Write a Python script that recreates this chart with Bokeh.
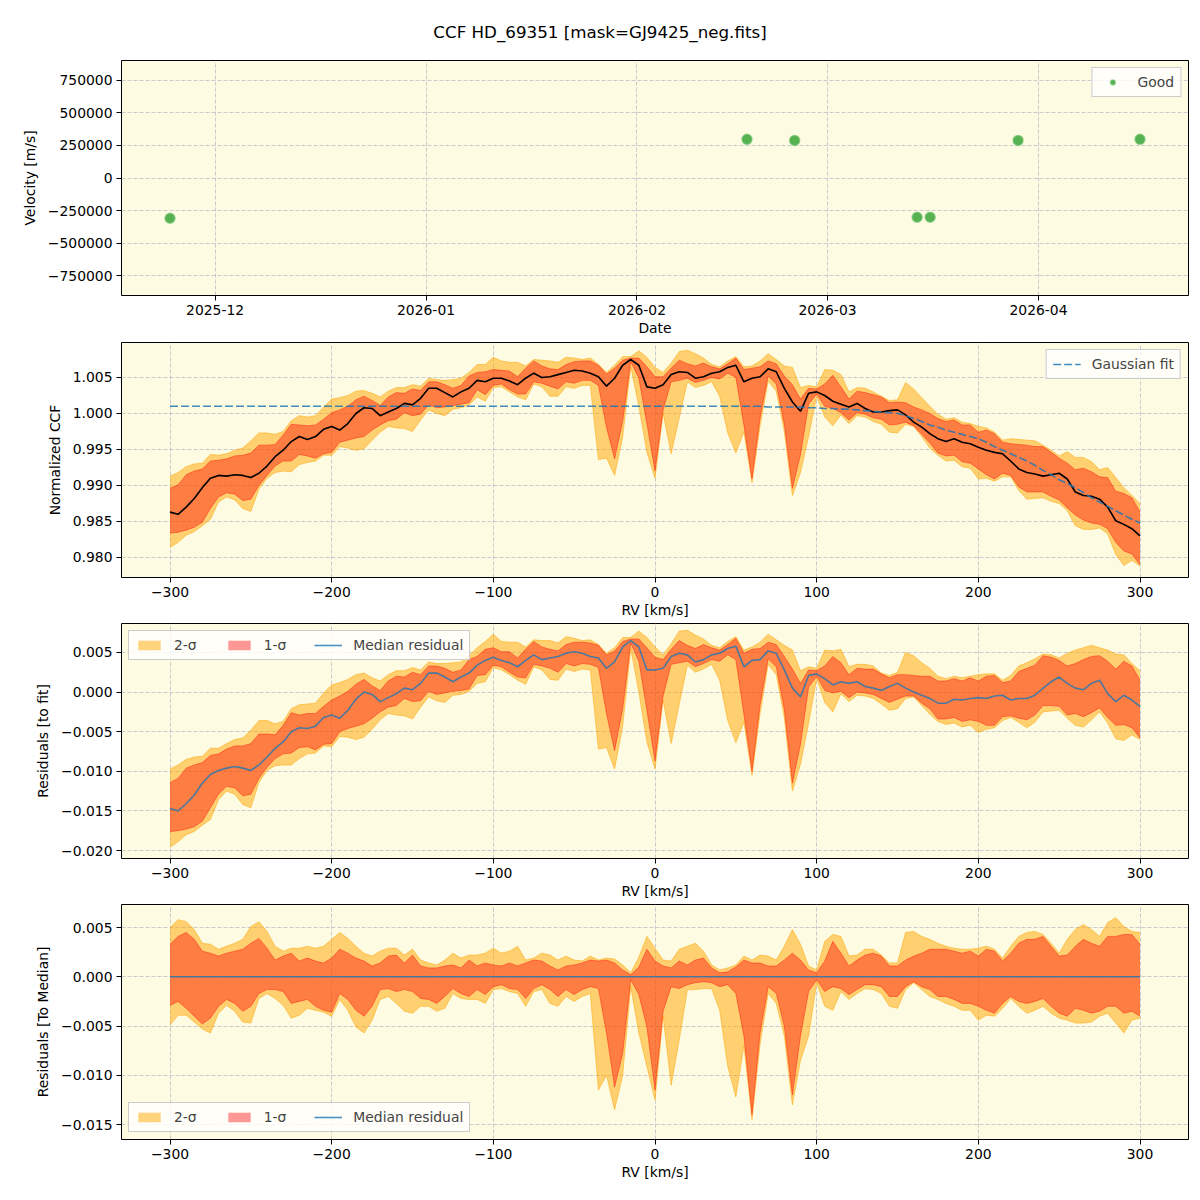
import numpy as np
import pandas as pd
from bokeh.plotting import figure
from bokeh.layouts import column
from bokeh.models import (Range1d, FixedTicker, CustomJSTickFormatter,
                          DatetimeTickFormatter, Legend, LegendItem, Div)
from bokeh.embed import file_html
from bokeh.resources import INLINE

FONT = "DejaVu Sans"
TXT = "13.9px"
PANEL_BG = "#fdfbe1"
GRID_COLOR = "#b4b4c4"

title_text = "CCF HD_69351 [mask=GJ9425_neg.fits]"

# ---- radial-velocity time series -------------------------------------------
obs_dates = ["2025-11-24 09:00", "2026-02-17 04:00", "2026-02-24 04:00",
             "2026-03-14 04:00", "2026-03-16 02:00", "2026-03-29 00:00",
             "2026-04-15 22:00"]
obs_velocity = [-308000, 296000, 288000, -301000, -301000, 288000, 296000]
month_ticks = ["2025-12-01", "2026-01-01", "2026-02-01", "2026-03-01", "2026-04-01"]
velocity_ticks = [-750000, -500000, -250000, 0, 250000, 500000, 750000]

# ---- CCF profiles on the RV grid (km/s) ---------------------------------------
rv_kms = list(range(-300, 305, 5))

ccf_median = [
    0.9863, 0.9860, 0.9870, 0.9882, 0.9897, 0.9910, 0.9914, 0.9913, 0.9915, 0.9914,
    0.9911, 0.9917, 0.9927, 0.9940, 0.9949, 0.9961, 0.9968, 0.9964, 0.9968, 0.9978,
    0.9982, 0.9977, 0.9986, 1.0000, 1.0008, 1.0007, 0.9997, 1.0002, 1.0007, 1.0014,
    1.0012, 1.0021, 1.0035, 1.0035, 1.0029, 1.0023, 1.0030, 1.0035, 1.0046, 1.0044,
    1.0049, 1.0049, 1.0045, 1.0040, 1.0049, 1.0056, 1.0050, 1.0051, 1.0054, 1.0057,
    1.0060, 1.0059, 1.0056, 1.0051, 1.0038, 1.0049, 1.0067, 1.0075, 1.0067, 1.0037,
    1.0035, 1.0040, 1.0054, 1.0058, 1.0057, 1.0049, 1.0051, 1.0056, 1.0058, 1.0064,
    1.0067, 1.0044, 1.0049, 1.0051, 1.0062, 1.0058, 1.0035, 1.0016, 1.0003, 1.0028,
    1.0030, 1.0025, 1.0017, 1.0013, 1.0009, 1.0014, 1.0007, 1.0002, 1.0002, 1.0004,
    1.0005, 0.9998, 0.9988, 0.9981, 0.9972, 0.9965, 0.9961, 0.9965, 0.9960, 0.9958,
    0.9953, 0.9949, 0.9946, 0.9944, 0.9934, 0.9923, 0.9918, 0.9916, 0.9913, 0.9915,
    0.9917, 0.9909, 0.9891, 0.9886, 0.9885, 0.9881, 0.9870, 0.9851, 0.9846, 0.9840,
    0.9830,
]

ccf_fit = [
    1.0010, 1.0010, 1.0010, 1.0010, 1.0010, 1.0010, 1.0010, 1.0010, 1.0010, 1.0010,
    1.0010, 1.0010, 1.0010, 1.0010, 1.0010, 1.0010, 1.0010, 1.0010, 1.0010, 1.0010,
    1.0010, 1.0010, 1.0010, 1.0010, 1.0010, 1.0010, 1.0010, 1.0010, 1.0010, 1.0010,
    1.0010, 1.0010, 1.0010, 1.0010, 1.0010, 1.0010, 1.0010, 1.0010, 1.0010, 1.0010,
    1.0010, 1.0010, 1.0010, 1.0010, 1.0010, 1.0010, 1.0010, 1.0010, 1.0010, 1.0010,
    1.0010, 1.0010, 1.0010, 1.0010, 1.0010, 1.0010, 1.0010, 1.0010, 1.0010, 1.0010,
    1.0010, 1.0010, 1.0010, 1.0010, 1.0010, 1.0010, 1.0010, 1.0010, 1.0010, 1.0010,
    1.0010, 1.0010, 1.0010, 1.0010, 1.0009, 1.0009, 1.0009, 1.0009, 1.0009, 1.0008,
    1.0008, 1.0007, 1.0007, 1.0006, 1.0006, 1.0005, 1.0004, 1.0003, 1.0002, 1.0001,
    1.0000, 0.9997, 0.9993, 0.9989, 0.9984, 0.9981, 0.9977, 0.9974, 0.9971, 0.9968,
    0.9965, 0.9960, 0.9954, 0.9949, 0.9944, 0.9939, 0.9934, 0.9928, 0.9921, 0.9915,
    0.9908, 0.9903, 0.9897, 0.9890, 0.9883, 0.9877, 0.9871, 0.9865, 0.9859, 0.9853,
    0.9848,
]

# median residual with respect to the Gaussian fit
resid_median = [
    -0.0147, -0.0150, -0.0141, -0.0130, -0.0115, -0.0104, -0.0099, -0.0096, -0.0094, -0.0096,
    -0.0099, -0.0092, -0.0082, -0.0071, -0.0063, -0.0050, -0.0045, -0.0046, -0.0043, -0.0032,
    -0.0029, -0.0033, -0.0023, -0.0009, 0.0000, -0.0003, -0.0012, -0.0007, -0.0002, 0.0005,
    0.0003, 0.0011, 0.0024, 0.0024, 0.0019, 0.0013, 0.0019, 0.0024, 0.0034, 0.0040,
    0.0044, 0.0040, 0.0037, 0.0032, 0.0040, 0.0047, 0.0041, 0.0043, 0.0045, 0.0049,
    0.0051, 0.0049, 0.0045, 0.0043, 0.0030, 0.0038, 0.0057, 0.0065, 0.0057, 0.0028,
    0.0028, 0.0030, 0.0045, 0.0049, 0.0047, 0.0038, 0.0041, 0.0047, 0.0049, 0.0055,
    0.0058, 0.0032, 0.0040, 0.0041, 0.0052, 0.0049, 0.0028, 0.0005, -0.0006, 0.0021,
    0.0023, 0.0017, 0.0009, 0.0013, 0.0011, 0.0013, 0.0007, 0.0005, 0.0002, 0.0007,
    0.0011, 0.0005, 0.0000, -0.0004, -0.0008, -0.0014, -0.0014, -0.0009, -0.0010, -0.0008,
    -0.0007, -0.0008, -0.0005, -0.0004, -0.0010, -0.0008, -0.0008, -0.0004, 0.0005, 0.0013,
    0.0019, 0.0011, 0.0005, 0.0003, 0.0011, 0.0015, -0.0002, -0.0012, -0.0004, -0.0010,
    -0.0018,
]

# spread of the individual CCFs around the median profile
sig2_hi = [
    0.0050, 0.0058, 0.0056, 0.0048, 0.0034, 0.0033, 0.0028, 0.0031, 0.0034, 0.0038,
    0.0051, 0.0056, 0.0046, 0.0031, 0.0026, 0.0029, 0.0029, 0.0031, 0.0029, 0.0031,
    0.0038, 0.0045, 0.0039, 0.0031, 0.0024, 0.0021, 0.0026, 0.0029, 0.0029, 0.0022,
    0.0028, 0.0017, 0.0014, 0.0012, 0.0017, 0.0024, 0.0019, 0.0022, 0.0022, 0.0024,
    0.0029, 0.0024, 0.0026, 0.0031, 0.0017, 0.0019, 0.0024, 0.0022, 0.0017, 0.0021,
    0.0017, 0.0016, 0.0021, 0.0017, 0.0019, 0.0018, 0.0012, 0.0004, 0.0020, 0.0041,
    0.0029, 0.0017, 0.0016, 0.0028, 0.0031, 0.0034, 0.0026, 0.0012, 0.0007, 0.0009,
    0.0012, 0.0021, 0.0017, 0.0022, 0.0021, 0.0017, 0.0031, 0.0048, 0.0033, 0.0011,
    0.0007, 0.0036, 0.0043, 0.0041, 0.0021, 0.0022, 0.0028, 0.0028, 0.0022, 0.0014,
    0.0014, 0.0045, 0.0046, 0.0041, 0.0038, 0.0034, 0.0031, 0.0029, 0.0028, 0.0028,
    0.0029, 0.0031, 0.0028, 0.0019, 0.0031, 0.0041, 0.0045, 0.0046, 0.0043, 0.0034,
    0.0024, 0.0038, 0.0048, 0.0053, 0.0048, 0.0041, 0.0055, 0.0060, 0.0051, 0.0046,
    0.0045,
]
sig1_hi = [
    0.0033, 0.0041, 0.0045, 0.0038, 0.0026, 0.0024, 0.0021, 0.0024, 0.0026, 0.0028,
    0.0034, 0.0039, 0.0029, 0.0017, 0.0021, 0.0024, 0.0016, 0.0019, 0.0016, 0.0014,
    0.0019, 0.0028, 0.0024, 0.0019, 0.0016, 0.0011, 0.0014, 0.0021, 0.0022, 0.0014,
    0.0022, 0.0011, 0.0009, 0.0009, 0.0011, 0.0012, 0.0009, 0.0017, 0.0011, 0.0014,
    0.0012, 0.0011, 0.0014, 0.0011, 0.0014, 0.0017, 0.0016, 0.0011, 0.0007, 0.0011,
    0.0012, 0.0014, 0.0017, 0.0016, 0.0017, 0.0014, 0.0007, 0.0002, 0.0010, 0.0028,
    0.0016, 0.0011, 0.0009, 0.0016, 0.0012, 0.0017, 0.0019, 0.0009, 0.0004, 0.0005,
    0.0010, 0.0017, 0.0014, 0.0014, 0.0011, 0.0011, 0.0017, 0.0024, 0.0017, 0.0007,
    0.0004, 0.0016, 0.0036, 0.0024, 0.0011, 0.0017, 0.0022, 0.0024, 0.0021, 0.0011,
    0.0011, 0.0017, 0.0021, 0.0024, 0.0028, 0.0028, 0.0028, 0.0026, 0.0024, 0.0026,
    0.0021, 0.0028, 0.0026, 0.0016, 0.0024, 0.0034, 0.0038, 0.0038, 0.0041, 0.0031,
    0.0021, 0.0022, 0.0031, 0.0038, 0.0034, 0.0031, 0.0041, 0.0041, 0.0043, 0.0043,
    0.0033,
]
sig1_lo = [
    -0.0029, -0.0025, -0.0032, -0.0040, -0.0048, -0.0042, -0.0030, -0.0023, -0.0027, -0.0035,
    -0.0030, -0.0017, -0.0013, -0.0013, -0.0015, -0.0027, -0.0025, -0.0023, -0.0030, -0.0034,
    -0.0036, -0.0017, -0.0023, -0.0034, -0.0040, -0.0030, -0.0013, -0.0012, -0.0015, -0.0013,
    -0.0015, -0.0022, -0.0023, -0.0027, -0.0020, -0.0012, -0.0017, -0.0020, -0.0013, -0.0018,
    -0.0010, -0.0008, -0.0012, -0.0013, -0.0022, -0.0012, -0.0008, -0.0013, -0.0020, -0.0013,
    -0.0018, -0.0013, -0.0010, -0.0012, -0.0057, -0.0112, -0.0078, -0.0003, -0.0018, -0.0051,
    -0.0115, -0.0035, -0.0010, -0.0012, -0.0008, -0.0006, -0.0005, -0.0006, -0.0010, -0.0008,
    -0.0017, -0.0060, -0.0140, -0.0057, -0.0010, -0.0017, -0.0050, -0.0120, -0.0060, -0.0015,
    -0.0003, -0.0015, -0.0010, -0.0012, -0.0018, -0.0013, -0.0008, -0.0008, -0.0010, -0.0020,
    -0.0020, -0.0010, -0.0005, -0.0010, -0.0013, -0.0020, -0.0020, -0.0023, -0.0027, -0.0027,
    -0.0030, -0.0034, -0.0037, -0.0027, -0.0020, -0.0025, -0.0027, -0.0025, -0.0022, -0.0030,
    -0.0037, -0.0040, -0.0032, -0.0034, -0.0037, -0.0035, -0.0030, -0.0030, -0.0037, -0.0035,
    -0.0040,
]
sig2_lo = [
    -0.0049, -0.0039, -0.0039, -0.0046, -0.0053, -0.0057, -0.0037, -0.0029, -0.0035, -0.0046,
    -0.0047, -0.0022, -0.0017, -0.0022, -0.0029, -0.0042, -0.0039, -0.0032, -0.0034, -0.0036,
    -0.0040, -0.0023, -0.0034, -0.0051, -0.0057, -0.0044, -0.0023, -0.0020, -0.0027, -0.0035,
    -0.0037, -0.0030, -0.0030, -0.0035, -0.0032, -0.0017, -0.0022, -0.0023, -0.0023, -0.0027,
    -0.0013, -0.0012, -0.0015, -0.0017, -0.0030, -0.0015, -0.0013, -0.0027, -0.0030, -0.0020,
    -0.0025, -0.0020, -0.0017, -0.0115, -0.0100, -0.0135, -0.0100, -0.0010, -0.0057, -0.0091,
    -0.0125, -0.0040, -0.0110, -0.0064, -0.0013, -0.0013, -0.0012, -0.0012, -0.0034, -0.0091,
    -0.0122, -0.0070, -0.0145, -0.0068, -0.0017, -0.0027, -0.0060, -0.0130, -0.0085, -0.0060,
    -0.0006, -0.0030, -0.0034, -0.0015, -0.0023, -0.0017, -0.0012, -0.0013, -0.0017, -0.0030,
    -0.0032, -0.0013, -0.0006, -0.0013, -0.0020, -0.0023, -0.0027, -0.0030, -0.0034, -0.0034,
    -0.0044, -0.0039, -0.0040, -0.0032, -0.0022, -0.0030, -0.0037, -0.0034, -0.0030, -0.0037,
    -0.0042, -0.0044, -0.0047, -0.0047, -0.0046, -0.0040, -0.0037, -0.0047, -0.0057, -0.0044,
    -0.0042,
]

rv_ticks = [-300, -200, -100, 0, 100, 200, 300]
ccf_ticks = [0.980, 0.985, 0.990, 0.995, 1.000, 1.005]
fit_resid_ticks = [-0.020, -0.015, -0.010, -0.005, 0.000, 0.005]
median_resid_ticks = [-0.015, -0.010, -0.005, 0.000, 0.005]


def signed_formatter(digits):
    return CustomJSTickFormatter(
        code="return (tick < 0 ? '\u2212' : '') + Math.abs(tick).toFixed(%d);" % digits)


def make_panel(x_range, y_range, top, bottom, xlabel, ylabel, **kw):
    p = figure(frame_width=1067, frame_height=235, x_range=x_range, y_range=y_range,
               min_border_left=121, min_border_right=12,
               min_border_top=top, min_border_bottom=bottom,
               toolbar_location=None, output_backend="svg", title=None, **kw)
    p.background_fill_color = PANEL_BG
    p.border_fill_color = "white"
    p.outline_line_color = "black"
    p.outline_line_alpha = 1.0
    p.outline_line_width = 1
    for ax in p.axis:
        ax.axis_line_color = None
        ax.major_tick_out = 5
        ax.major_tick_in = 0
        ax.major_tick_line_color = "black"
        ax.minor_tick_line_color = None
        ax.major_label_text_font = FONT
        ax.major_label_text_font_size = TXT
        ax.major_label_text_color = "black"
        ax.axis_label_text_font = FONT
        ax.axis_label_text_font_size = TXT
        ax.axis_label_text_font_style = "normal"
        ax.axis_label_text_color = "black"
    p.xaxis.major_label_standoff = 4
    p.xaxis.axis_label_standoff = 2
    p.yaxis.major_label_standoff = 4
    p.yaxis.axis_label_standoff = 7
    p.xaxis.axis_label = xlabel
    p.yaxis.axis_label = ylabel
    p.grid.grid_line_color = GRID_COLOR
    p.grid.grid_line_alpha = 0.7
    p.grid.grid_line_dash = "4 2"
    p.grid.grid_line_width = 1
    return p


def legend(items, location, orientation="vertical"):
    return Legend(items=items, location=location, orientation=orientation,
                  label_text_font=FONT, label_text_font_size=TXT,
                  glyph_width=28, glyph_height=12, label_height=14,
                  label_standoff=11, spacing=28, padding=6, margin=7,
                  background_fill_color="white", background_fill_alpha=0.8,
                  border_line_color="#cccccc", border_line_alpha=1.0)


def draw_bands(p, x, center, hi2, hi1, lo1, lo2):
    r2 = p.varea(x=x, y1=center + lo2, y2=center + hi2,
                 fill_color="orange", fill_alpha=0.5)
    for edge in (center + lo2, center + hi2):
        p.line(x, edge, line_color="orange", line_alpha=0.5, line_width=1)
    r1 = p.varea(x=x, y1=center + lo1, y2=center + hi1,
                 fill_color="red", fill_alpha=0.4)
    for edge in (center + lo1, center + hi1):
        p.line(x, edge, line_color="red", line_alpha=0.4, line_width=1)
    return r2, r1


# ---- panel 1: velocities vs date ---------------------------------------------
t_obs = pd.to_datetime(obs_dates).as_unit("ms").asi8.astype(float)
t_ticks = pd.to_datetime(month_ticks).as_unit("ms").asi8.astype(float)
t_pad = 0.05 * (t_obs.max() - t_obs.min())

p1 = make_panel(Range1d(t_obs.min() - t_pad, t_obs.max() + t_pad),
                Range1d(-900000, 900000), 15, 45, "Date", "Velocity [m/s]",
                x_axis_type="datetime")
p1.xaxis.ticker = FixedTicker(ticks=list(t_ticks))
p1.xaxis.formatter = DatetimeTickFormatter(
    hours="%Y-%m", days="%Y-%m", months="%Y-%m", years="%Y-%m")
p1.yaxis.ticker = FixedTicker(ticks=velocity_ticks)
p1.yaxis.formatter = signed_formatter(0)
good = p1.scatter(t_obs, obs_velocity, size=10, marker="circle",
                  fill_color="#2ca02c", fill_alpha=0.8,
                  line_color="#6cc06c", line_alpha=0.6, line_width=1.5)
p1.add_layout(legend([LegendItem(label="Good", renderers=[good])], "top_right"))

# ---- panels 2-4: CCF profiles -------------------------------------------------
rv = np.array(rv_kms, dtype=float)
med = np.array(ccf_median)
fit = np.array(ccf_fit)
res = np.array(resid_median)
h2, h1, l1, l2 = (np.array(a) for a in (sig2_hi, sig1_hi, sig1_lo, sig2_lo))


def rv_panel(y_range, ticks, top, bottom, ylabel):
    p = make_panel(Range1d(-330, 330), y_range, top, bottom, "RV [km/s]", ylabel)
    p.xaxis.ticker = FixedTicker(ticks=rv_ticks)
    p.xaxis.formatter = signed_formatter(0)
    p.yaxis.ticker = FixedTicker(ticks=ticks)
    p.yaxis.formatter = signed_formatter(3)
    return p


p2 = rv_panel(Range1d(0.97722, 1.00986), ccf_ticks, 2, 45, "Normalized CCF")
draw_bands(p2, rv, med, h2, h1, l1, l2)
p2.line(rv, med, line_color="black", line_width=1.6)
fit_r = p2.line(rv, fit, line_color="#1f77b4", line_alpha=0.85, line_width=1.6,
                line_dash="8 3")
p2.add_layout(legend([LegendItem(label="Gaussian fit", renderers=[fit_r])], "top_right"))

p3 = rv_panel(Range1d(-0.02101, 0.00866), fit_resid_ticks, 1, 45, "Residuals [to fit]")
b2, b1 = draw_bands(p3, rv, res, h2, h1, l1, l2)
m3 = p3.line(rv, res, line_color="#1f77b4", line_alpha=0.8, line_width=1.6)
p3.add_layout(legend([LegendItem(label="2-\u03c3", renderers=[b2]),
                      LegendItem(label="1-\u03c3", renderers=[b1]),
                      LegendItem(label="Median residual", renderers=[m3])],
                     "top_left", "horizontal"))

p4 = rv_panel(Range1d(-0.01652, 0.00734), median_resid_ticks, 1, 60,
              "Residuals [To Median]")
zero = np.zeros_like(rv)
c2, c1 = draw_bands(p4, rv, zero, h2, h1, l1, l2)
m4 = p4.line(rv, zero, line_color="#1f77b4", line_alpha=0.8, line_width=1.6)
p4.add_layout(legend([LegendItem(label="2-\u03c3", renderers=[c2]),
                      LegendItem(label="1-\u03c3", renderers=[c1]),
                      LegendItem(label="Median residual", renderers=[m4])],
                     "bottom_left", "horizontal"))

header = Div(
    text=('<div style="width:1200px;text-align:center;font-family:\'DejaVu Sans\';'
          'font-size:16.7px;padding-top:21px;color:black">%s</div>' % title_text),
    width=1200, height=45, margin=(0, 0, 0, 0))

layout = column(header, p1, p2, p3, p4, spacing=0)

with open("out.html", "w") as fh:
    fh.write(file_html(layout, INLINE))
